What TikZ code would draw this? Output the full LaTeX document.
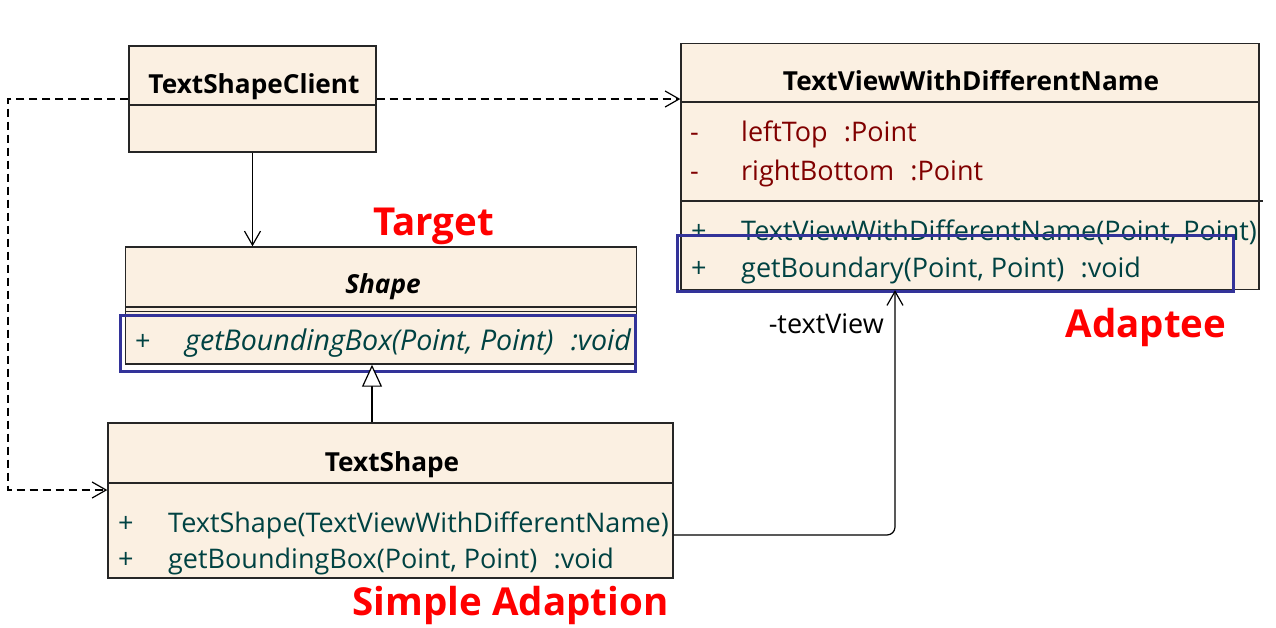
\documentclass[tikz,border=0pt]{standalone}
\usepackage{fontspec}
\setmainfont{Open Sans}
\usetikzlibrary{arrows.meta,positioning}
\definecolor{classfill}{RGB}{251,240,226}
\definecolor{attrred}{RGB}{128,0,0}
\definecolor{methteal}{RGB}{0,66,66}
\definecolor{hlblue}{RGB}{51,51,153}
\begin{document}
\begin{tikzpicture}[x = 1pt, y = -1pt,every node/.style={font=\fontsize{27}{32}\selectfont},
  umlclass/.style={draw=black!85,fill=classfill,line width=1.4pt,inner sep=0pt},
  classname/.style={font=\fontsize{26.2}{31}\selectfont\bfseries,anchor=base,inner sep=0pt},
  vis/.style={anchor=base west,inner sep=0pt},
  attr/.style={anchor=base west,inner sep=0pt,text=attrred},
  meth/.style={anchor=base west,inner sep=0pt,text=methteal},
  divider/.style={draw=black!85,line width=1.2pt},
  highlight/.style={draw=hlblue,line width=3pt},
  redlabel/.style={font=\fontsize{38.5}{44}\selectfont\bfseries,text=red,anchor=base,inner sep=0pt},
  assoc/.style={line width=1.2pt,-{Straight Barb[length=14pt,width=16pt,line width=1.2pt]}},
  dep/.style={line width=1.2pt,dash pattern=on 8pt off 5pt,-{Straight Barb[length=14pt,width=16pt,line width=1.2pt]}},
  inherit/.style={line width=1.2pt,-{Triangle[open,fill=white,length=22pt,width=20pt,line width=1.2pt]}}]
\useasboundingbox (0,0) rectangle (1276,627);
% classes
\node[umlclass,minimum width=247pt,minimum height=106pt] (client) at (252.5,99) {};
\node[classname] (clientName) at (254,93) {TextShapeClient};
\draw[divider] ([yshift=-6pt]client.west) -- ([yshift=-6pt]client.east);
\node[umlclass,minimum width=578pt,minimum height=246pt] (adaptee) at (970,166.5) {};
\node[classname] (adapteeName) at (971,90) {TextViewWithDifferentName};
\draw[divider] ([yshift=64.5pt]adaptee.west) -- ([yshift=64.5pt]adaptee.east);
\draw[divider] ([yshift=-34.5pt]adaptee.west) -- ([xshift=3pt,yshift=-34.5pt]adaptee.east);
\node[vis,text=attrred] (visLeft) at (690,141) {-};
\node[attr] (leftTop) at (741,141) {leftTop\hspace{.6em}:Point};
\node[vis,text=attrred] (visRight) at (690,180) {-};
\node[attr] (rightBottom) at (741,180) {rightBottom\hspace{.6em}:Point};
\node[vis,text=methteal] (visCtor) at (691,240) {+};
\node[meth] (ctorView) at (741,240) {TextViewWithDifferentName(Point, Point)};
\node[vis,text=methteal] (visBoundary) at (691,277) {+};
\node[meth] (getBoundary) at (741,277) {getBoundary(Point, Point)\hspace{.6em}:void};
\node[umlclass,minimum width=511pt,minimum height=117pt] (shape) at (381,305.5) {};
\node[classname,font=\fontsize{26.2}{31}\selectfont\bfseries\itshape] (shapeName) at (383,293) {Shape};
\draw[divider] ([yshift=-1.5pt]shape.west) -- ([yshift=-1.5pt]shape.east);
\draw[divider] ([yshift=-6pt]shape.west) -- ([yshift=-6pt]shape.east);
\node[vis,text=methteal] (visShape) at (135,350) {+};
\node[meth,font=\fontsize{28.6}{33}\selectfont\itshape] (getBBoxShape) at (185,350) {getBoundingBox(Point, Point)\hspace{.6em}:void};
\node[umlclass,minimum width=565pt,minimum height=155pt] (textshape) at (390.5,500.5) {};
\node[classname] (textshapeName) at (392,471) {TextShape};
\draw[divider] ([yshift=17.5pt]textshape.west) -- ([yshift=17.5pt]textshape.east);
\node[vis,text=methteal] (visTsCtor) at (118,532) {+};
\node[meth] (ctorTs) at (168,532) {TextShape(TextViewWithDifferentName)};
\node[vis,text=methteal] (visTsBox) at (118,568) {+};
\node[meth] (getBBoxTs) at (168,568) {getBoundingBox(Point, Point)\hspace{.6em}:void};
% highlights
\draw[highlight] (120,315) rectangle (635,371.5);
\draw[highlight] (677,235.5) rectangle (1233,291.5);
% labels
\node[redlabel] (target) at (433.5,235) {Target};
\node[redlabel] (adapteeLabel) at (1146,337) {Adaptee};
\node[redlabel] (simpleLabel) at (510.5,615) {Simple Adaption};
\node[anchor=base east,inner sep=0pt] (roleLabel) at (884,333) {-textView};
% connectors
\coordinate (bendLeft) at (8,99);
\draw[assoc] (client.south) -- (client.south |- shape.north);
\draw[inherit] ([xshift=-18.5pt]textshape.north) -- ([xshift=-9pt]shape.south);
\draw[dep] (client.east) -- (client.east -| adaptee.west);
\draw[dep] (client.west) -- (bendLeft) |- ([yshift=10.5pt]textshape.west);
\draw[assoc,rounded corners=8pt] ([yshift=-34.5pt]textshape.east) -| ([xshift=-75pt]adaptee.south);
\end{tikzpicture}
\end{document}
